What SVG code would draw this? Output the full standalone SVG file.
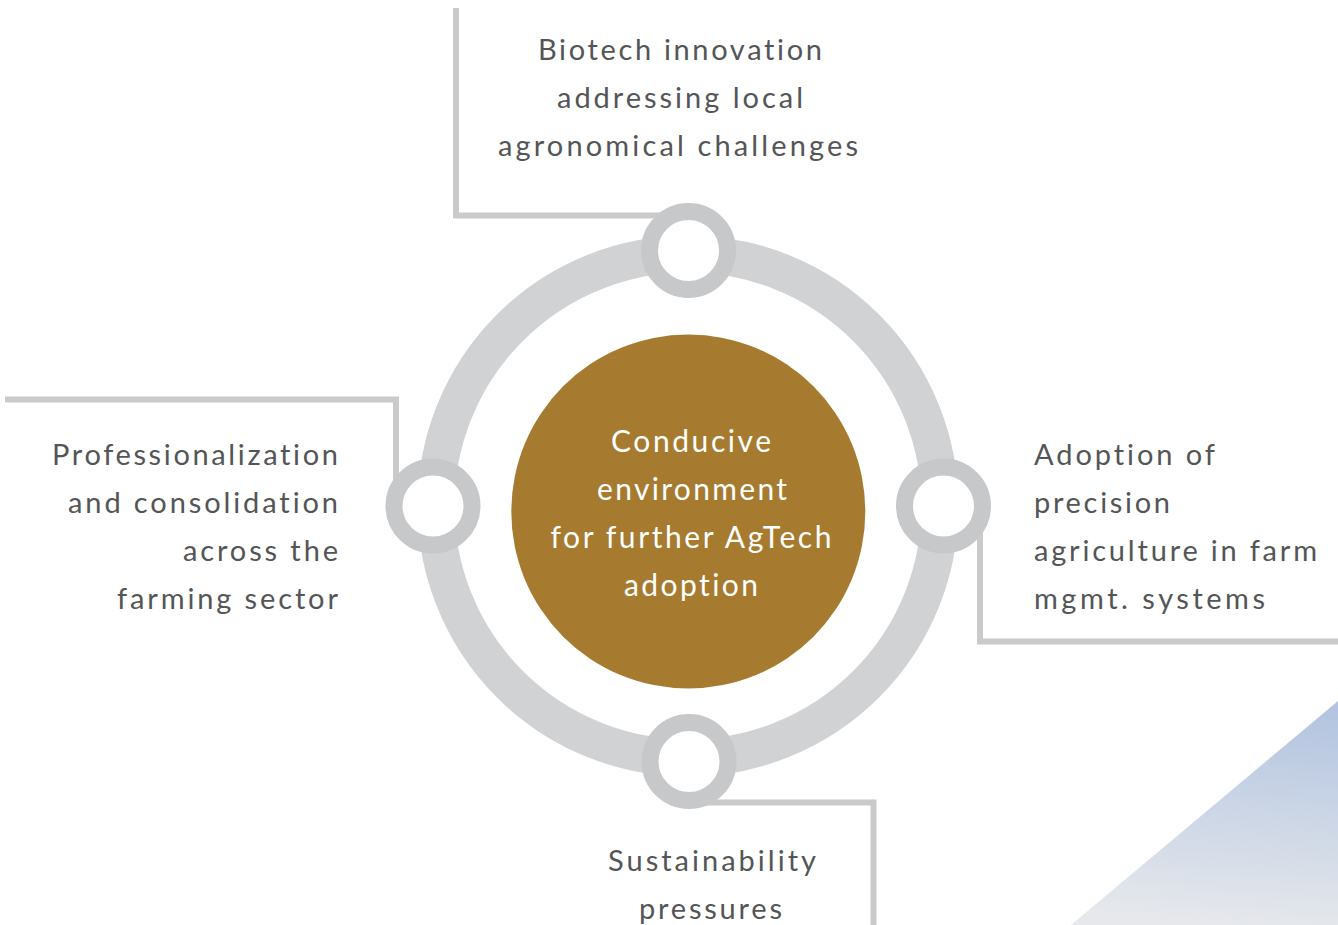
<svg xmlns="http://www.w3.org/2000/svg" width="1338" height="925" viewBox="0 0 1338 925">
  <defs>
    <linearGradient id="tri" x1="1250" y1="700" x2="1230" y2="925" gradientUnits="userSpaceOnUse">
      <stop offset="0" stop-color="#b2c4e0"/>
      <stop offset="1" stop-color="#e6e8ec"/>
    </linearGradient>
  </defs>
  <style>
    .conn { fill: none; stroke: #c9cacc; stroke-width: 6; stroke-linejoin: miter; }
    .ring { fill: none; stroke: #d1d2d4; stroke-width: 37; }
    .dot { fill: #ffffff; stroke: #c7c8ca; stroke-width: 17; }
    .lbl { font-family: Lato, "Open Sans", "Liberation Sans", sans-serif; font-size: 29px; fill: #545557; font-variant-ligatures: none; }
    .ctr { font-family: Lato, "Open Sans", "Liberation Sans", sans-serif; font-size: 30px; fill: #ffffff; text-anchor: middle; font-variant-ligatures: none; }
  </style>
  <rect width="1338" height="925" fill="#ffffff"/>
  <polygon points="1071,925 1338,701 1338,925" fill="url(#tri)"/>

  <g id="connectors">
    <polyline class="conn" points="456,8 456,215.5 688,215.5"/>
    <polyline class="conn" points="5,399.5 396,399.5 396,506"/>
    <polyline class="conn" points="943,506 980,506 980,641.5 1338,641.5"/>
    <polyline class="conn" points="689,802.5 873.5,802.5 873.5,925"/>
  </g>

  <g id="ring">
    <circle class="ring" cx="688" cy="506" r="252"/>
  </g>

  <g id="center">
    <circle cx="688.3" cy="511.5" r="177" fill="#a67b2f"/>
    <text class="ctr" x="691" y="452" textLength="160" lengthAdjust="spacing">Conducive</text>
    <text class="ctr" x="692" y="500" textLength="190" lengthAdjust="spacing">environment</text>
    <text class="ctr" x="691" y="548" textLength="281" lengthAdjust="spacing">for further AgTech</text>
    <text class="ctr" x="691" y="596" textLength="134" lengthAdjust="spacing">adoption</text>
  </g>

  <g id="node-top">
    <circle class="dot" cx="688.5" cy="250.5" r="39"/>
    <text class="lbl" x="538" y="60" textLength="284" lengthAdjust="spacing">Biotech innovation</text>
    <text class="lbl" x="557" y="108" textLength="246" lengthAdjust="spacing">addressing local</text>
    <text class="lbl" x="498" y="156" textLength="360" lengthAdjust="spacing">agronomical challenges</text>
  </g>

  <g id="node-left">
    <circle class="dot" cx="433" cy="506" r="39"/>
    <text class="lbl" x="52" y="465" textLength="286" lengthAdjust="spacing">Professionalization</text>
    <text class="lbl" x="68" y="513" textLength="270" lengthAdjust="spacing">and consolidation</text>
    <text class="lbl" x="183" y="561" textLength="155" lengthAdjust="spacing">across the</text>
    <text class="lbl" x="117" y="609" textLength="221" lengthAdjust="spacing">farming sector</text>
  </g>

  <g id="node-right">
    <circle class="dot" cx="943.5" cy="506" r="39"/>
    <text class="lbl" x="1034" y="465" textLength="181" lengthAdjust="spacing">Adoption of</text>
    <text class="lbl" x="1034" y="513" textLength="136" lengthAdjust="spacing">precision</text>
    <text class="lbl" x="1034" y="561" textLength="283" lengthAdjust="spacing">agriculture in farm</text>
    <text class="lbl" x="1034" y="609" textLength="231" lengthAdjust="spacing">mgmt. systems</text>
  </g>

  <g id="node-bottom">
    <circle class="dot" cx="689" cy="761.5" r="39"/>
    <text class="lbl" x="608" y="871" textLength="208" lengthAdjust="spacing">Sustainability</text>
    <text class="lbl" x="639" y="919" textLength="143" lengthAdjust="spacing">pressures</text>
  </g>
</svg>
